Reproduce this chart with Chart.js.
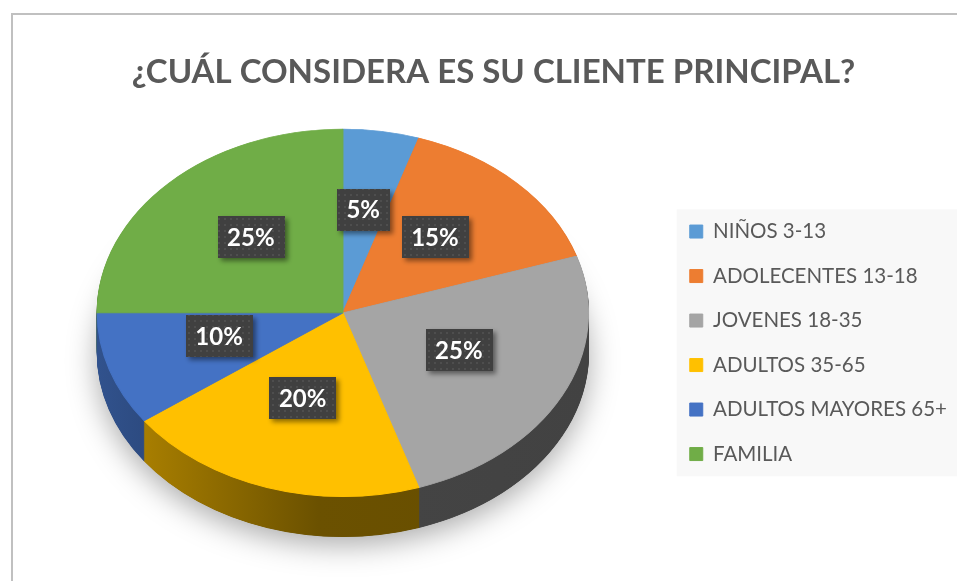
<!DOCTYPE html>
<html>
<head>
<meta charset="utf-8">
<script src="https://cdn.jsdelivr.net/npm/chart.js@4"></script>
<style>
  html, body { margin: 0; padding: 0; background: #fff; }
  #wrap { position: relative; width: 957px; height: 581px; overflow: hidden; }
  #frame { position: absolute; left: 11px; top: 13px; width: 1000px; height: 620px; border: 2px solid #c0c0c0; box-sizing: border-box; }
  #chart { position: absolute; left: 0; top: 0; }
</style>
</head>
<body>
<div id="wrap">
  <div id="frame"></div>
  <canvas id="chart" width="957" height="581"></canvas>
</div>
<script>
var categories = ['NIÑOS 3-13', 'ADOLECENTES 13-18', 'JOVENES 18-35', 'ADULTOS 35-65', 'ADULTOS MAYORES 65+', 'FAMILIA'];
var shares = [5, 15, 25, 20, 10, 25];
var sliceColors = ['#5b9bd5', '#ed7d31', '#a5a5a5', '#ffc000', '#4472c4', '#70ad47'];

// 3D look: squash + stretch of the library's pie, plus a side wall
var TILT = { dx: -5, dy: -30, sx: 1.118, sy: 0.836, depth: 40 };
var LABEL_POS = 0.53;
var LABEL_LIFT = -7;

function shade(hex, f) {
  var n = parseInt(hex.slice(1), 16);
  var r = Math.round(((n >> 16) & 255) * f);
  var g = Math.round(((n >> 8) & 255) * f);
  var b = Math.round((n & 255) * f);
  return 'rgb(' + r + ',' + g + ',' + b + ')';
}

function pieGeom(chart) {
  var arc = chart.getDatasetMeta(0).data[0];
  var R = arc.outerRadius;
  return {
    x0: arc.x, y0: arc.y, R: R,
    cx: arc.x + TILT.dx, cy: arc.y + TILT.dy,
    rx: R * TILT.sx, ry: R * TILT.sy
  };
}

function applyTilt(ctx, g) {
  ctx.translate(g.cx, g.cy);
  ctx.scale(g.rx / g.R, g.ry / g.R);
  ctx.translate(-g.x0, -g.y0);
}

function drawArcAs(arc, ctx, fill) {
  var view = Object.create(arc);
  view.options = Object.assign({}, arc.options, { backgroundColor: fill, borderColor: fill });
  arc.draw.call(view, ctx);
}

var dotPattern = (function () {
  var c = document.createElement('canvas');
  c.width = 6; c.height = 6;
  var p = c.getContext('2d');
  p.fillStyle = '#404040';
  p.fillRect(0, 0, 6, 6);
  p.fillStyle = '#4e4e4e';
  p.fillRect(2, 2, 2, 2);
  return c;
})();

var pie3d = {
  id: 'pie3d',
  beforeDraw: function (chart) {
    // legend panel
    var hb = chart.legend.legendHitBoxes;
    if (!hb || !hb.length) return;
    var ctx = chart.ctx;
    var first = hb[0], last = hb[hb.length - 1];
    ctx.save();
    ctx.fillStyle = '#f8f8f8';
    ctx.fillRect(first.left - 13, first.top - 12, chart.width - first.left + 13, last.top + last.height + 12 - first.top + 12);
    ctx.restore();
  },
  beforeDatasetsDraw: function (chart) {
    var ctx = chart.ctx;
    var g = pieGeom(chart);
    var arcs = chart.getDatasetMeta(0).data;

    // soft shadow under the pie
    ctx.save();
    ctx.translate(0, TILT.depth);
    ctx.shadowColor = 'rgba(0,0,0,0.34)';
    ctx.shadowBlur = 30;
    ctx.shadowOffsetY = 8;
    applyTilt(ctx, g);
    ctx.beginPath();
    ctx.arc(g.x0, g.y0, g.R, 0, Math.PI * 2);
    ctx.fillStyle = '#444';
    ctx.fill();
    ctx.restore();

    // side wall
    var fills = arcs.map(function (a, i) {
      var grad = ctx.createLinearGradient(g.x0 - g.R, 0, g.x0 + g.R, 0);
      grad.addColorStop(0, shade(sliceColors[i], 0.72));
      grad.addColorStop(0.45, shade(sliceColors[i], 0.42));
      grad.addColorStop(1, shade(sliceColors[i], 0.4));
      return grad;
    });
    for (var k = TILT.depth; k >= 1; k--) {
      ctx.save();
      ctx.translate(0, k);
      applyTilt(ctx, g);
      arcs.forEach(function (a, i) { drawArcAs(a, ctx, fills[i]); });
      ctx.restore();
    }

    // top face drawn by the library under this transform
    ctx.save();
    applyTilt(ctx, g);
  },
  afterDatasetsDraw: function (chart) {
    var ctx = chart.ctx;
    ctx.restore();

    var g = pieGeom(chart);
    var arcs = chart.getDatasetMeta(0).data;
    var pattern = ctx.createPattern(dotPattern, 'repeat');
    ctx.font = 'bold 24px Lato';
    arcs.forEach(function (a, i) {
      var mid = (a.startAngle + a.endAngle) / 2;
      var px = g.cx + Math.cos(mid) * g.rx * LABEL_POS;
      var py = g.cy + LABEL_LIFT + Math.sin(mid) * g.ry * LABEL_POS;
      var text = shares[i] + '%';
      var w = ctx.measureText(text).width + 19;
      var h = 42;
      ctx.save();
      ctx.shadowColor = 'rgba(0,0,0,0.45)';
      ctx.shadowBlur = 5;
      ctx.shadowOffsetX = 3;
      ctx.shadowOffsetY = 3;
      ctx.fillStyle = pattern;
      ctx.fillRect(Math.round(px - w / 2), Math.round(py - h / 2), Math.round(w), h);
      ctx.restore();
      ctx.fillStyle = '#ffffff';
      ctx.textAlign = 'center';
      ctx.textBaseline = 'middle';
      ctx.fillText(text, px, py + 1);
    });
  }
};

new Chart(document.getElementById('chart'), {
  type: 'pie',
  data: {
    labels: categories,
    datasets: [
      {
        data: shares,
        backgroundColor: sliceColors,
        borderColor: sliceColors,
        borderWidth: 1,
        clip: false,
      },
    ],
  },
  options: {
    responsive: false,
    animation: false,
    layout: { padding: { left: 30, right: 0, top: 14, bottom: 18 } },
    plugins: {
      title: {
        display: true,
        text: '¿CUÁL CONSIDERA ES SU CLIENTE PRINCIPAL?',
        color: '#595959',
        font: { family: 'Lato', size: 33, weight: 'bold' },
        padding: { top: 39, bottom: 30 },
      },
      legend: {
        position: 'right',
        fullSize: false,
        maxWidth: 292,
        labels: {
          boxWidth: 13,
          boxHeight: 13,
          padding: 24,
          color: '#595959',
          font: { family: 'Lato', size: 20.5 },
        },
      },
      tooltip: { enabled: false },
    },
  },
  plugins: [pie3d],
});
</script>
</body>
</html>
